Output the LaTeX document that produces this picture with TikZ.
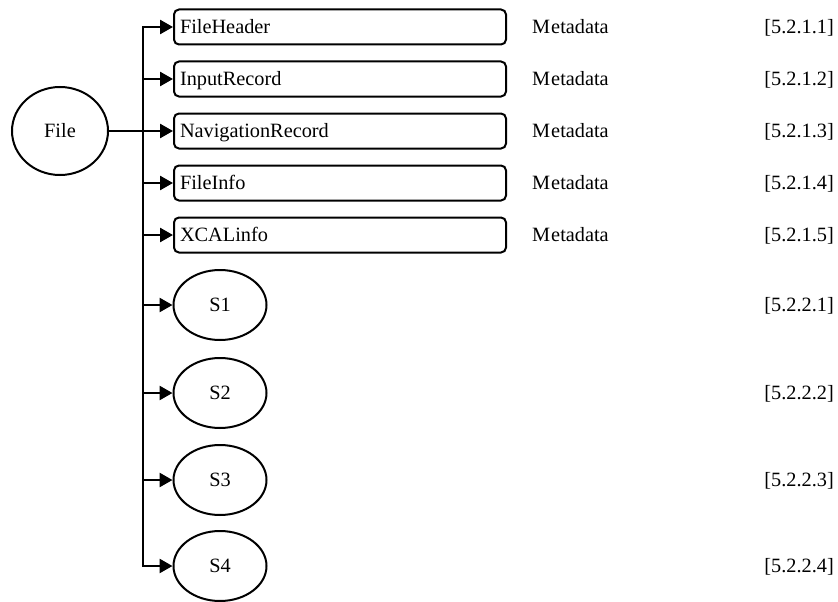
\documentclass[tikz,border=0pt]{standalone}
\usepackage{fontspec}
\setmainfont{Liberation Serif}
\usetikzlibrary{arrows.meta,shapes.geometric}
\begin{document}
\begin{tikzpicture}[x=1pt,y=-1pt,
  every node/.style={font=\fontsize{20.3}{24}\selectfont, text height=13.4pt, text depth=0pt, inner sep=0pt},
  rbox/.style={draw, line width=2pt, rounded corners=5pt, minimum width=332pt, minimum height=35pt, text width=320pt, align=left},
  ell/.style={draw, ellipse, line width=2pt, minimum width=93pt, minimum height=70pt},
  arr/.style={line width=2.6pt, -{Triangle[length=13pt,width=14pt]}},
  conn/.style={line width=2.8pt},
  meta/.style={anchor=west},
  ref/.style={anchor=east}]
\useasboundingbox (0,0) rectangle (838,602);
\node[draw, ellipse, line width=2pt, minimum width=96pt, minimum height=88pt] (file) at (60,131) {File};
\node[rbox] (b1) at (340,27) {FileHeader};
\node[rbox] (b2) at (340,79) {InputRecord};
\node[rbox] (b3) at (340,131) {NavigationRecord};
\node[rbox] (b4) at (340,183) {FileInfo};
\node[rbox] (b5) at (340,235) {XCALinfo};
\node[ell] (s1) at (220,305) {S1};
\node[ell] (s2) at (220,393) {S2};
\node[ell] (s3) at (220,480) {S3};
\node[ell] (s4) at (220,566) {S4};
\coordinate (ttop) at (143,27);
\coordinate (tbot) at (143,566);
\coordinate (tmid) at (143,131);
\draw[arr] (tbot) |- (b1.west);
\draw[arr] (ttop) |- (s4.west);
\draw[conn] (file.east) -- (tmid);
\foreach \n in {b2,b3,b4,b5,s1,s2,s3}{
  \draw[arr] (ttop |- \n.west) -- (\n.west);
}
\node[meta] (m1) at (532,27) {M\kern1pt etadata};
\node[meta] (m2) at (532,79) {M\kern1pt etadata};
\node[meta] (m3) at (532,131) {M\kern1pt etadata};
\node[meta] (m4) at (532,183) {M\kern1pt etadata};
\node[meta] (m5) at (532,235) {M\kern1pt etadata};
\node[ref] (r1) at (834,27) {[5.2.1.1]};
\node[ref] (r2) at (834,79) {[5.2.1.2]};
\node[ref] (r3) at (834,131) {[5.2.1.3]};
\node[ref] (r4) at (834,183) {[5.2.1.4]};
\node[ref] (r5) at (834,235) {[5.2.1.5]};
\node[ref] (r6) at (834,305) {[5.2.2.1]};
\node[ref] (r7) at (834,393) {[5.2.2.2]};
\node[ref] (r8) at (834,480) {[5.2.2.3]};
\node[ref] (r9) at (834,566) {[5.2.2.4]};
\end{tikzpicture}
\end{document}
